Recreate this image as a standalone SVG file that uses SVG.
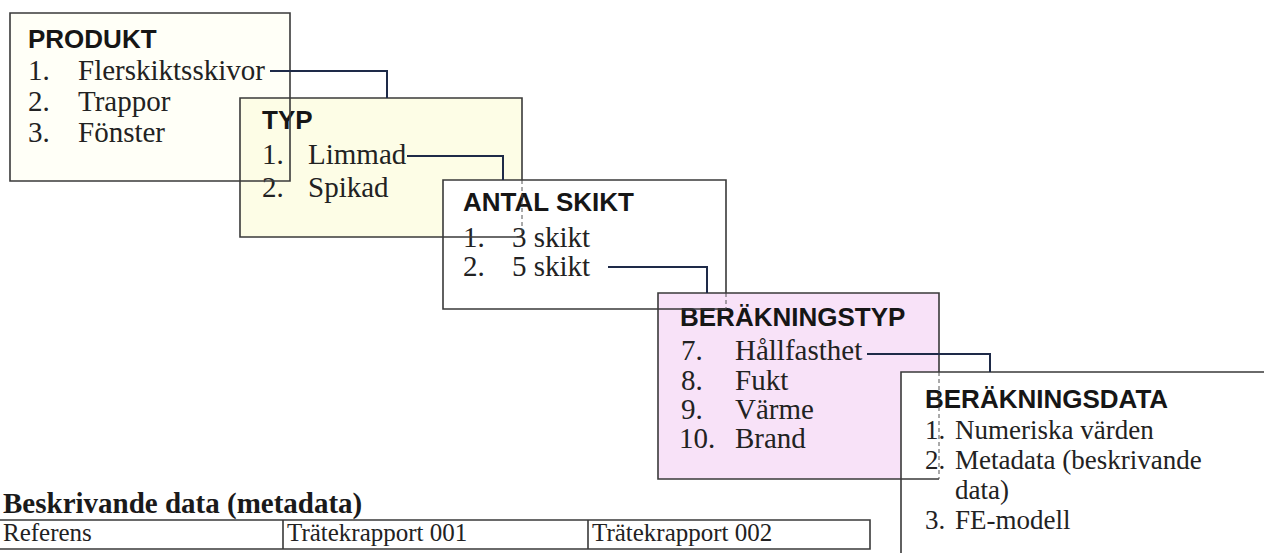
<svg xmlns="http://www.w3.org/2000/svg" width="1264" height="553" viewBox="0 0 1264 553">
<style>
.t{font-family:"Liberation Sans",Arial,sans-serif;font-weight:bold;font-size:26px;fill:#161616}
.s{font-family:"Liberation Serif","Times New Roman",serif;font-size:29px;fill:#222}
.s2{font-family:"Liberation Serif","Times New Roman",serif;font-size:27px;fill:#222}
.h{font-family:"Liberation Serif","Times New Roman",serif;font-weight:bold;font-size:29px;fill:#1a1a1a}
.r{font-family:"Liberation Serif","Times New Roman",serif;font-size:25px;fill:#222}
.f{fill:none;stroke:#3a3a3a;stroke-width:1.6}
.d{fill:none;stroke:#555;stroke-width:1;stroke-dasharray:4 3}
.c{fill:none;stroke:#1e2a48;stroke-width:2}
</style>
<rect width="1264" height="553" fill="#ffffff"/>
<g id="produkt">
<rect x="10" y="13" width="280" height="168" fill="#fffff7"/>
<text class="t" x="28" y="48">PRODUKT</text>
<text class="s" x="28" y="80">1.</text><text class="s" x="78" y="80">Flerskiktsskivor</text>
<text class="s" x="28" y="111">2.</text><text class="s" x="78" y="111">Trappor</text>
<text class="s" x="28" y="142">3.</text><text class="s" x="78" y="142">Fönster</text>
</g>
<g id="typ">
<rect x="240" y="98" width="282" height="139" fill="#fdfde6"/>
<text class="t" x="262" y="129">TYP</text>
<text class="s" x="262" y="164">1.</text><text class="s" x="308" y="164">Limmad</text>
<text class="s" x="262" y="197">2.</text><text class="s" x="308" y="197">Spikad</text>
</g>
<g id="antal-skikt">
<rect x="443" y="180" width="283" height="129" fill="#ffffff"/>
<text class="t" x="463" y="211">ANTAL SKIKT</text>
<text class="s" x="463" y="247">1.</text><text class="s" x="512" y="247">3 skikt</text>
<text class="s" x="463" y="276">2.</text><text class="s" x="512" y="276">5 skikt</text>
</g>
<g id="berakningstyp">
<rect x="658" y="293" width="281" height="186" fill="#f8e2f8"/>
<text class="t" x="680" y="326">BERÄKNINGSTYP</text>
<text class="s" x="681" y="360">7.</text><text class="s" x="735" y="360">Hållfasthet</text>
<text class="s" x="681" y="390">8.</text><text class="s" x="735" y="390">Fukt</text>
<text class="s" x="681" y="419">9.</text><text class="s" x="735" y="419">Värme</text>
<text class="s" x="679" y="448">10.</text><text class="s" x="735" y="448">Brand</text>
</g>
<g id="berakningsdata">
<rect x="901" y="372" width="370" height="190" fill="#ffffff"/>
<text class="t" x="925" y="408">BERÄKNINGSDATA</text>
<text class="s2" x="925" y="439">1.</text><text class="s2" x="955" y="439">Numeriska värden</text>
<text class="s2" x="925" y="469">2.</text><text class="s2" x="955" y="469">Metadata (beskrivande</text>
<text class="s2" x="955" y="499">data)</text>
<text class="s2" x="925" y="529">3.</text><text class="s2" x="955" y="529">FE-modell</text>
</g>
<g id="frames">
<path class="f" d="M10,13 H290 V181 H10 Z"/>
<path class="f" d="M522,180 V98 H240 V237 H522"/>
<path class="d" d="M522,180 V237"/>
<path class="f" d="M726,293 V180 H443 V309 H726"/>
<path class="d" d="M726,293 V309"/>
<path class="f" d="M939,372 V293 H658 V479 H939"/>
<path class="d" d="M939,372 V479"/>
<path class="f" d="M1264,372 H901 V553"/>
</g>
<g id="connectors">
<path class="c" d="M270,71 H387 V98"/>
<path class="c" d="M407,156 H503 V180"/>
<path class="c" d="M608,267 H707 V293"/>
<path class="c" d="M867,354 H990 V372"/>
</g>
<g id="metadata-table">
<text class="h" x="3" y="513">Beskrivande data (metadata)</text>
<path class="f" d="M0,520 H870 V549 H0"/>
<path class="f" d="M283,520 V549 M588,520 V549"/>
<text class="r" x="3" y="541">Referens</text>
<text class="r" x="287" y="541">Trätekrapport 001</text>
<text class="r" x="592" y="541">Trätekrapport 002</text>
</g>
</svg>
